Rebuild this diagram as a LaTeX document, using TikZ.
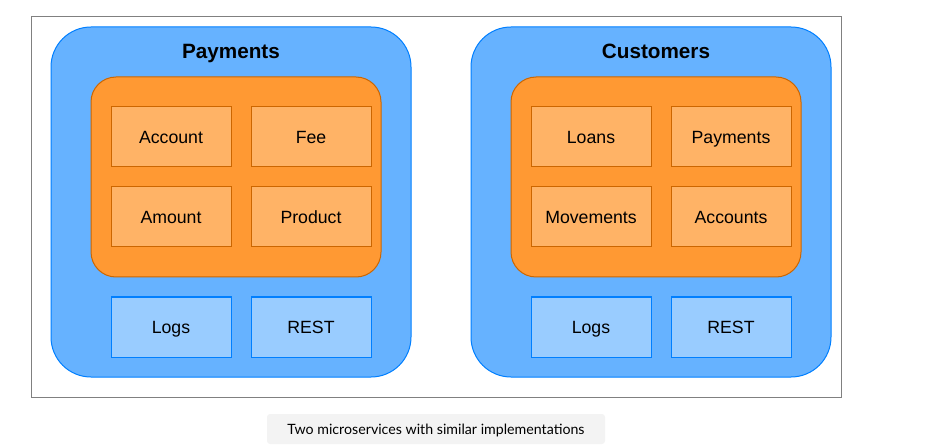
\documentclass[tikz,border=0pt]{standalone}
\usepackage{fontspec}
\setmainfont{Liberation Sans}
\newfontfamily\capfont{Lato}
\usepackage{tikz}
\usetikzlibrary{positioning}

\definecolor{svcblue}{HTML}{66B2FF}
\definecolor{svcline}{HTML}{007FFF}
\definecolor{lightblue}{HTML}{99CCFF}
\definecolor{coreorange}{HTML}{FF9933}
\definecolor{coreline}{HTML}{CC6600}
\definecolor{entityorange}{HTML}{FFB366}
\definecolor{capgray}{HTML}{F3F3F3}

\begin{document}
\begin{tikzpicture}[x=1pt,y=-1pt,
  every node/.style={font=\fontsize{17.7}{20}\selectfont,text height=16.7pt,text depth=4pt},
  service/.style={draw=svcline,line width=1pt,fill=svcblue,rounded corners=40pt,
    minimum width=360pt,minimum height=350pt},
  core/.style={draw=coreline,line width=1pt,fill=coreorange,rounded corners=25pt,
    minimum width=290pt,minimum height=200pt},
  entity/.style={draw=coreline,line width=1pt,fill=entityorange,
    minimum width=120pt,minimum height=60pt},
  infra/.style={draw=svcline,line width=1pt,fill=lightblue,
    minimum width=120pt,minimum height=60pt},
  title/.style={font=\bfseries\fontsize{20.7}{24}\selectfont,text height=19.8pt,text depth=5pt}]
  \useasboundingbox (0,0) rectangle (934,446);
  \node[draw=gray,line width=1pt,minimum width=810pt,minimum height=380pt] (frame) at (436,207) {};

  % payments service
  \node[service] (pay) at (231,202) {};
  \node[title] (paytitle) at (231,51) {Payments};
  \node[core] (paycore) at (236,177) {};
  \node[entity] (account) at (171,137) {Account};
  \node[entity] (fee) at (311,137) {Fee};
  \node[entity] (amount) at (171,217) {Amount};
  \node[entity] (product) at (311,217) {Product};
  \node[infra] (paylogs) at (171,327) {Logs};
  \node[infra] (payrest) at (311,327) {REST};

  % customers service
  \node[service] (cust) at (651,202) {};
  \node[title] (custtitle) at (656,51) {Customers};
  \node[core] (custcore) at (656,177) {};
  \node[entity] (loans) at (591,137) {Loans};
  \node[entity] (payments) at (731,137) {Payments};
  \node[entity] (movements) at (591,217) {Movements};
  \node[entity] (accounts) at (731,217) {Accounts};
  \node[infra] (custlogs) at (591,327) {Logs};
  \node[infra] (custrest) at (731,327) {REST};

  \node[fill=capgray,rounded corners=3pt,minimum width=338pt,minimum height=30pt,
    font=\capfont\fontsize{14.2}{17}\selectfont,text height=13.7pt,text depth=3.5pt] (caption) at (436,429)
    {Two microservices with similar implementations};
\end{tikzpicture}
\end{document}
